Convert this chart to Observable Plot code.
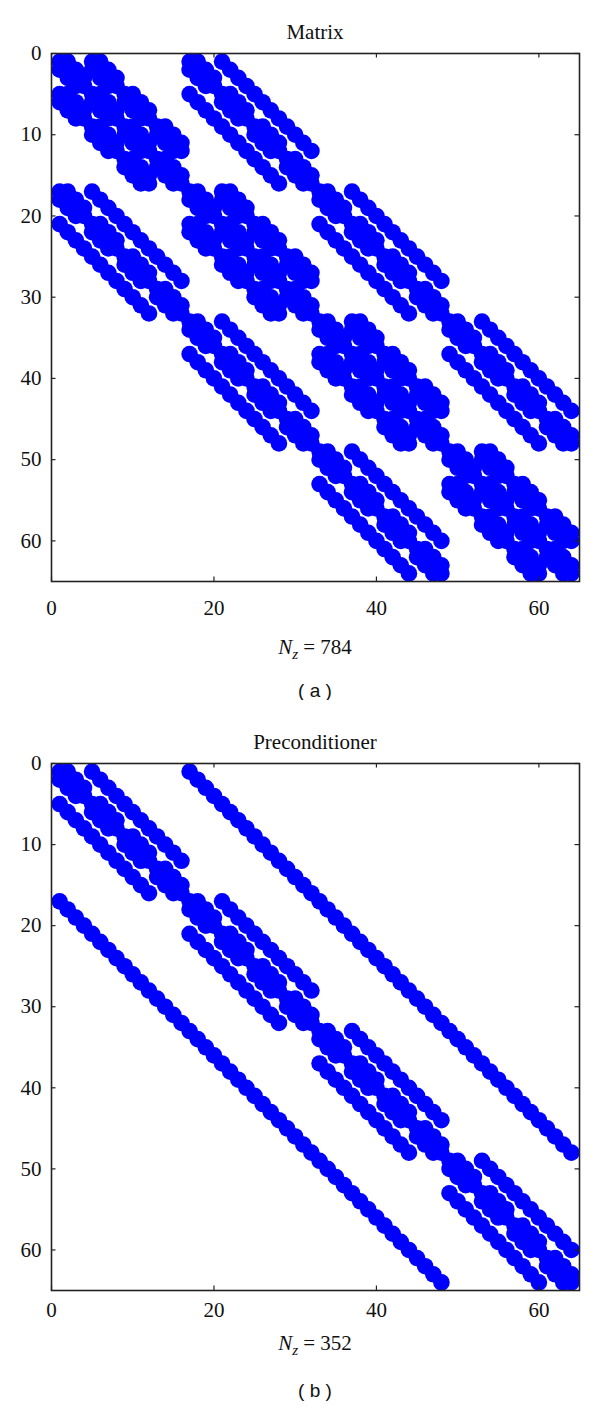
<!DOCTYPE html>
<html>
<head>
<meta charset="utf-8">
<script src="https://cdn.jsdelivr.net/npm/d3@7"></script>
<script src="https://cdn.jsdelivr.net/npm/@observablehq/plot@0.6"></script>
<style>
  html, body { margin: 0; padding: 0; background: #fff; }
  #page { position: relative; width: 600px; height: 1409px; overflow: hidden; background: #fff; }
  .lbl { position: absolute; transform: translate(-50%, -50%); white-space: nowrap; color: #111; line-height: 1; }
  .serif { font-family: "Liberation Serif", "Times New Roman", serif; font-size: 21px; }
  .sans { font-family: "Liberation Sans", Arial, sans-serif; font-size: 19px; }
  .panel { position: absolute; left: 0; }
</style>
</head>
<body>
<div id="page"></div>
<script>
// ---- data ----
const gridSize = 4;                       // 4 x 4 x 4 grid -> 64 unknowns
const matrixSize = 65;                    // axis extent 0..65
// neighbour offsets [dx, dy, dz] present in each sparsity pattern (read from the bands)
const matrixStencil = [
  [0,0,0],
  [1,0,0],[-1,0,0],[0,1,0],[0,-1,0],[0,0,1],[0,0,-1],
  [1,1,0],[1,-1,0],[-1,1,0],[-1,-1,0],
  [1,0,1],[1,0,-1],[-1,0,1],[-1,0,-1],
  [0,1,1],[0,1,-1],[0,-1,1],[0,-1,-1]
];
const precondStencil = [
  [0,0,0],
  [1,0,0],[-1,0,0],[0,1,0],[0,-1,0],[0,0,1],[0,0,-1]
];
const panelTitles = ["Matrix", "Preconditioner"];
const panelCaptions = ["( a )", "( b )"];
const xTicks = [0, 20, 40, 60];
const yTicks = [0, 10, 20, 30, 40, 50, 60];

function pattern(stencil) {
  const out = [];
  const n = gridSize;
  for (let k = 0; k < n; k++) for (let j = 0; j < n; j++) for (let i = 0; i < n; i++) {
    const row = 1 + i + n * j + n * n * k;
    for (const [dx, dy, dz] of stencil) {
      const a = i + dx, b = j + dy, c = k + dz;
      if (a < 0 || b < 0 || c < 0 || a >= n || b >= n || c >= n) continue;
      out.push({row, col: 1 + a + n * b + n * n * c});
    }
  }
  return out;
}
const matrixEntries = pattern(matrixStencil);
const precondEntries = pattern(precondStencil);

// ---- layout ----
const page = document.getElementById("page");
const panels = [
  {entries: matrixEntries, top: 0, height: 630, mt: 53, mb: 49, pad: 19,
   titleY: 32, nzY: 647, capY: 690},
  {entries: precondEntries, top: 700, height: 630, mt: 63, mb: 40, pad: 12,
   titleY: 742, nzY: 1343, capY: 1390}
];
const ML = 51, MR = 21, W = 600, TICK = 4.5;

panels.forEach((p, idx) => {
  const plotH = p.height - p.mt - p.mb;
  const plotW = W - ML - MR;
  const chart = Plot.plot({
    width: W, height: p.height,
    marginTop: p.mt, marginBottom: p.mb, marginLeft: ML, marginRight: MR,
    style: {fontFamily: "'Liberation Serif', 'Times New Roman', serif", fontSize: "21px", background: "white", color: "#111", overflow: "visible"},
    x: {domain: [0, matrixSize], ticks: xTicks, label: null},
    y: {domain: [0, matrixSize], reverse: true, ticks: yTicks, label: null},
    marks: [
      Plot.dot(p.entries, {x: "col", y: "row", r: 8.3, fill: "#0000ff", stroke: null, clip: true}),
      Plot.axisX(xTicks, {anchor: "bottom", tickSize: 0, tickPadding: p.pad, fontSize: 21, fill: "#111", label: null}),
      Plot.axisY(yTicks, {anchor: "left", tickSize: 0, tickPadding: 10, fontSize: 21, fill: "#111", label: null}),
      Plot.ruleX(xTicks, {x: d => d, insetTop: plotH - TICK, stroke: "#222", strokeWidth: 1.2}),
      Plot.ruleX(xTicks, {x: d => d, insetBottom: plotH - TICK, stroke: "#222", strokeWidth: 1.2}),
      Plot.ruleY(yTicks, {y: d => d, insetRight: plotW - TICK, stroke: "#222", strokeWidth: 1.2}),
      Plot.ruleY(yTicks, {y: d => d, insetLeft: plotW - TICK, stroke: "#222", strokeWidth: 1.2}),
      Plot.frame({stroke: "#222", strokeWidth: 1.6})
    ]
  });
  const wrap = document.createElement("div");
  wrap.className = "panel";
  wrap.style.top = p.top + "px";
  wrap.appendChild(chart);
  page.appendChild(wrap);

  const cx = ML + plotW / 2;
  const t = document.createElement("div");
  t.className = "lbl serif";
  t.style.left = cx + "px"; t.style.top = p.titleY + "px";
  t.textContent = panelTitles[idx];
  page.appendChild(t);

  const nz = document.createElement("div");
  nz.className = "lbl serif";
  nz.style.left = cx + "px"; nz.style.top = p.nzY + "px";
  nz.innerHTML = '<i>N</i><span style="font-style:italic;font-size:15px;position:relative;top:5px;">z</span> = ' + p.entries.length;
  page.appendChild(nz);

  const c = document.createElement("div");
  c.className = "lbl sans";
  c.style.left = cx + "px"; c.style.top = p.capY + "px";
  c.textContent = panelCaptions[idx];
  page.appendChild(c);
});
</script>
</body>
</html>
